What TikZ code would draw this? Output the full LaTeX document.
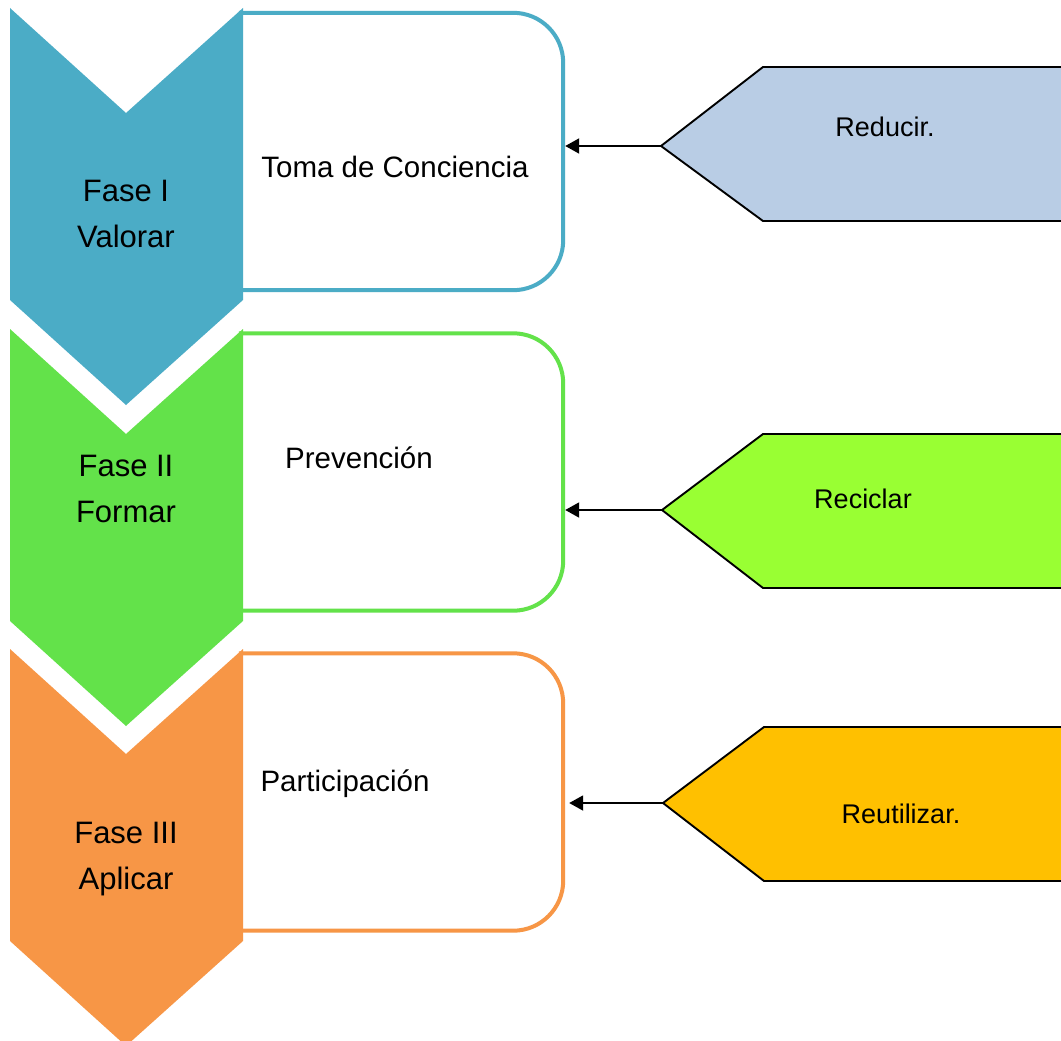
\documentclass[tikz,border=0pt]{standalone}
\usepackage{fontspec}
\setmainfont{Liberation Sans}
\usetikzlibrary{arrows.meta}
\definecolor{cblue}{HTML}{4BACC6}
\definecolor{cgreen}{HTML}{63E24A}
\definecolor{corange}{HTML}{F79646}
\definecolor{pblue}{HTML}{B9CDE5}
\definecolor{pgreen}{HTML}{99FF33}
\definecolor{pgold}{HTML}{FFC000}
\tikzset{
 boxframe/.style={minimum width=324pt, minimum height=277pt, inner sep=0pt, draw=none},
 phasebox/.style={line width=4pt, rounded corners=50pt},
 chevtext/.style={align=center, font=\fontsize{31}{46}\selectfont, inner sep=0pt},
 boxtext/.style={anchor=base, font=\fontsize{29.5}{35}\selectfont, inner sep=0pt},
 pent/.style={draw=black, line width=1.9pt, line join=miter},
 penttext/.style={anchor=base, font=\fontsize{27}{32}\selectfont, inner sep=0pt},
 conn/.style={line width=1.9pt, -{Triangle[length=14pt,width=15pt]}},
}
\begin{document}
\begin{tikzpicture}[x=1pt,y=-1pt]
\clip (0,0) rectangle (1061,1041);
\fill[white] (0,0) rectangle (1061,1041);

% boxes
\node[boxframe] (b1) at (401,151.5) {};
\node[boxframe] (b2) at (401,472) {};
\node[boxframe] (b3) at (401,792) {};
\draw[phasebox,cblue] (b1.north west) -- (b1.north east) -- (b1.south east) -- (b1.south west);
\draw[phasebox,cgreen] (b2.north west) -- (b2.north east) -- (b2.south east) -- (b2.south west);
\draw[phasebox,corange] (b3.north west) -- (b3.north east) -- (b3.south east) -- (b3.south west);

% chevrons
\fill[cblue] (10,8) -- (126,113) -- (243,8) -- (243,300) -- (126,405) -- (10,300) -- cycle;
\fill[cgreen] (10,329) -- (126,434) -- (243,329) -- (243,621) -- (126,726) -- (10,621) -- cycle;
\fill[corange] (10,649) -- (126,754) -- (243,649) -- (243,941) -- (126,1046) -- (10,941) -- cycle;

\node[chevtext] (c1) at (126,214) {Fase I\\Valorar};
\node[chevtext] (c2) at (126,489) {Fase II\\Formar};
\node[chevtext] (c3) at (126,859) {Fase III\\Aplicar};

\node[boxtext] (bt1) at (395,177) {Toma de Conciencia};
\node[boxtext] (bt2) at (359,468) {Prevención};
\node[boxtext] (bt3) at (345,791) {Participación};

% pentagons
\draw[pent,fill=pblue] (661,146) coordinate (t1) -- (763,67) -- (1075,67) -- (1075,221) -- (763,221) -- cycle;
\draw[pent,fill=pgreen] (662,510) coordinate (t2) -- (763,434) -- (1075,434) -- (1075,588) -- (763,588) -- cycle;
\draw[pent,fill=pgold] (663,803) coordinate (t3) -- (764,727) -- (1075,727) -- (1075,881) -- (764,881) -- cycle;

\node[penttext] (p1) at (885,136) {Reducir.};
\node[penttext] (p2) at (863,508) {Reciclar};
\node[penttext] (p3) at (901,823) {Reutilizar.};

% connectors
\draw[conn] (t1) -- ([xshift=2pt]t1 -| b1.east);
\draw[conn] (t2) -- ([xshift=2pt]t2 -| b2.east);
\draw[conn] (t3) -- ([xshift=6pt]t3 -| b3.east);
\end{tikzpicture}
\end{document}
